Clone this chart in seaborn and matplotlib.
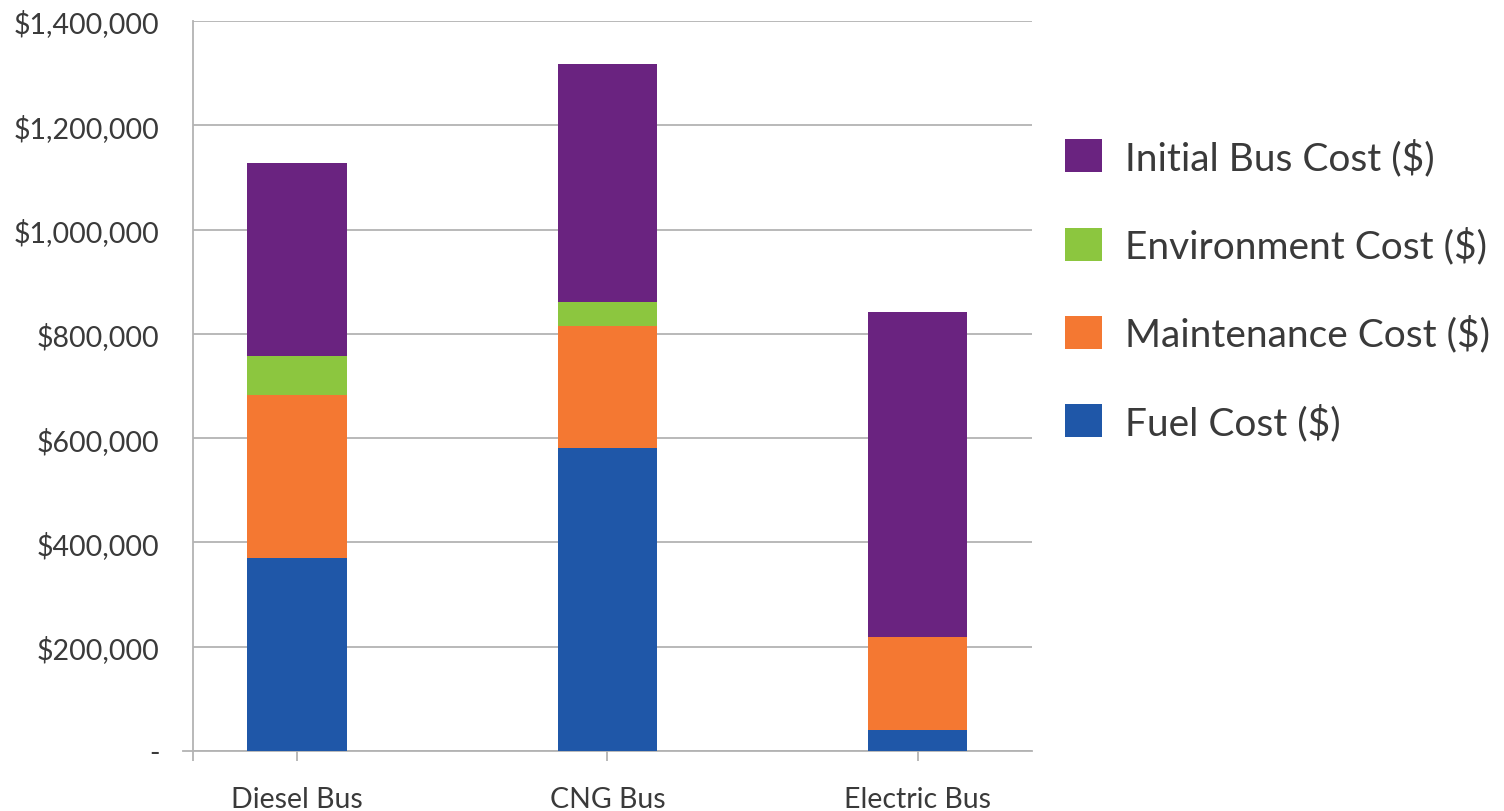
import numpy as np
import pandas as pd
import matplotlib
matplotlib.use("Agg")
import matplotlib.pyplot as plt
from matplotlib.ticker import FuncFormatter, FixedLocator
from matplotlib.patches import Patch
import seaborn as sns

categories = ["Diesel Bus", "CNG Bus", "Electric Bus"]
fuel_cost = [370000, 582000, 40000]
maintenance_cost = [313000, 234000, 179000]
environment_cost = [75000, 46000, 0]
initial_bus_cost = [369000, 455000, 622000]

series_names = ["Fuel Cost ($)", "Maintenance Cost ($)", "Environment Cost ($)", "Initial Bus Cost ($)"]
series_values = [fuel_cost, maintenance_cost, environment_cost, initial_bus_cost]
series_colors = ["#1F57A8", "#F47832", "#8CC63F", "#6A2380"]
y_ticks = [0, 200000, 400000, 600000, 800000, 1000000, 1200000, 1400000]

sns.set_theme(style="white")
plt.rcParams["font.family"] = ["Lato", "DejaVu Sans"]
text_color = "#3a3a3a"
axis_gray = "#b3b3b3"

fig = plt.figure(figsize=(15.04, 8.12), dpi=100)
ax = fig.add_axes([193/1504, 1-752/812, (1032-193)/1504, (752-22)/812])

cum = np.cumsum(np.array(series_values, dtype=float), axis=0)
# draw tallest cumulative first so lower segments sit on top
for i in range(len(series_names) - 1, -1, -1):
    df = pd.DataFrame({"category": categories, "value": cum[i]})
    sns.barplot(data=df, x="category", y="value", order=categories,
                color=series_colors[i], width=0.32, saturation=1,
                linewidth=0, ax=ax, zorder=3)

xmin, xmax = -0.335, 2.368
ax.set_xlim(xmin, xmax)
ax.set_ylim(0, 1400000)
ax.yaxis.set_major_locator(FixedLocator(y_ticks))
ax.yaxis.set_major_formatter(FuncFormatter(lambda v, p: "-" if v == 0 else f"${v:,.0f}"))
ax.grid(axis="y", color=axis_gray, linewidth=1.3, zorder=0)
ax.grid(axis="x", visible=False)
for s in ["top", "right"]:
    ax.spines[s].set_visible(False)
for s in ["left", "bottom"]:
    ax.spines[s].set_color(axis_gray)
    ax.spines[s].set_linewidth(1.3)
ax.spines["bottom"].set_bounds(xmin - 0.032, xmax)
ax.set_xlabel("")
ax.set_ylabel("")
ax.xaxis.set_minor_locator(FixedLocator([xmin]))
ax.tick_params(axis="y", length=0, pad=24, labelsize=20.5, labelcolor=text_color)
ax.tick_params(axis="x", which="both", length=7, width=1.3, color=axis_gray, direction="out",
               pad=18, labelsize=20.5, labelcolor=text_color, bottom=True)

handles = [Patch(facecolor=series_colors[i], edgecolor="none", label=series_names[i])
           for i in range(len(series_names) - 1, -1, -1)]
fig.legend(handles=handles, loc="upper left", bbox_to_anchor=(1046/1504, 1-120/812),
           frameon=False, fontsize=28, handlelength=0.93, handleheight=0.93,
           handletextpad=0.6, labelspacing=1.30, borderpad=0, labelcolor=text_color)

fig.savefig("out.png", dpi=100)
